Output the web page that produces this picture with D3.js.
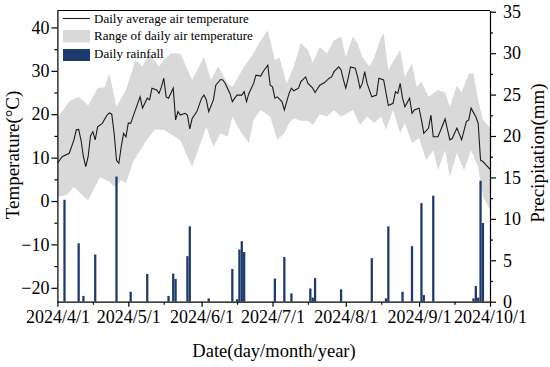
<!DOCTYPE html>
<html><head><meta charset="utf-8">
<script src="https://cdn.jsdelivr.net/npm/d3@7"></script>
<style>body{margin:0;background:#fff}svg{display:block}</style>
</head><body><svg id="c" width="550" height="367"></svg>
<script>
const startDate = "2024-04-01";
const endDate = "2024-10-01";
// daily average air temperature (day offset from 2024-04-01, °C)
const tempDays = [0,2,5,7,8,9,10,11,12,13,14,15,16,17,19,21,22,23,24,25,26,27,28,29,30,31,33,35,36,38,39,40,42,43,44,45,46,47,49,50,51,52,54,55,56,57,59,61,62,63,64,66,67,69,70,71,73,74,75,76,78,79,80,81,83,84,86,87,89,90,91,92,93,95,96,98,99,100,102,103,105,106,108,109,111,113,115,116,117,119,120,121,122,123,124,126,127,128,129,130,131,133,135,136,138,140,142,143,144,145,146,147,149,150,151,153,154,155,157,158,159,161,163,164,166,167,169,171,173,174,175,177,178,179,180,182,183];
const tempMean = [8.7,10.2,11,14.1,16.4,16.5,14,10.2,7.9,10.2,15,16,14.1,17.1,17.9,19.8,20.3,20,15.6,9.4,8.7,12.5,15.6,14.8,18,17.9,21,24,21.4,23.7,23.3,26,25.6,24.8,26.3,28.3,24,23.7,26,18.7,20.6,19.8,20.2,19.8,16.6,19,20.6,23.7,24.4,23.3,20.6,23.3,26.7,28,27.9,27.1,24.8,22.9,23.7,24.4,24.4,25.2,22.9,24.8,27.1,29,28.8,29.8,31.3,26.7,26.3,23.7,24,22.9,21,24.8,26,25.4,26,27.5,28.6,27.1,26,25,26.7,27.3,28.3,28.6,29.8,30.9,30.2,27.9,26,28.3,30.9,30.6,28.6,26,27.1,29.8,27.1,24,24.4,28.3,27.9,22,22.5,25.2,24.8,27.1,23.7,21.7,23.7,20.2,21,21.4,18.7,15.6,16.8,19.8,14.8,14.8,17.5,18.9,14.1,14.4,16.8,14.1,18.3,18.7,21.4,19.4,17.9,9.4,9.1,7.9,7.3];
// daily max / min air temperature envelope
const maxDays = [0,5,9,13,17,20,22,25,29,33,36,39,43,45,48,52,57,62,65,68,72,74,79,82,86,89,92,94,97,100,103,106,108,111,114,117,120,122,125,127,129,132,134,137,138,140,145,147,150,152,154,157,161,164,166,169,171,174,176,178,180,183];
const tempMax = [19,23,24,22,26,26.3,29.4,21.7,25.6,32.5,31,34,31,32.5,34,34,27.9,33.2,27.9,31,27.1,26.3,31,33.2,37,39.4,32.5,33,27.1,31,36.4,34.8,31.8,35.5,34,37,37.9,33.2,37.9,36.3,33.2,31,33,37.9,38.6,30.2,34.8,28.6,31.8,26.3,27.5,24,25.6,25,21.7,26.7,25,29.4,29.4,23.3,18.7,17];
const minDays = [0,4,7,12,13,18,22,24,27,29,32,37,41,45,52,55,57,60,63,66,69,72,74,77,81,83,86,90,93,96,98,100,103,106,108,111,114,117,120,122,125,128,131,134,137,139,142,145,147,150,153,156,159,161,164,166,169,172,175,178,180,183];
const tempMin = [1,1.4,3.3,0.5,0.2,5.5,4.5,3.3,4.8,4.1,9,13.4,16.4,16.4,14,10.2,7.9,12.5,17.1,12.5,15.6,14.8,19.4,16.4,13.3,18.7,21,19.5,14.1,15.6,18,19,18.5,18.5,17.5,20,19.5,21,19.5,20,21,17.5,19.5,18,19.5,16.4,21,15.6,18,13.3,14.5,9.4,11.7,7.1,11.7,5.6,11,7.1,11.7,7.9,1,-2];
// daily rainfall (mm)
const rainDays = [3,9,11,16,25,31,38,47,49,50,55,56,64,74,76,77,78,79,92,96,99,107,108,109,120,133,139,140,146,150,154,155,159,176,177,178,179,180];
const rainfall = [12.3,7.05,0.7,5.7,15.1,1.2,3.35,0.7,3.4,2.75,5.5,9.1,0.4,3.95,0.3,6.3,7.3,6.0,2.8,5.4,1.0,1.6,0.5,2.85,1.5,5.25,0.4,9.1,1.2,6.7,11.9,0.8,12.8,0.4,1.9,0.5,14.6,9.5];
const tempTicks = [-20,-10,0,10,20,30,40];
const rainTicks = [0,5,10,15,20,25,30,35];
const legendLabels = ["Daily average air temperature","Range of daily air temperature","Daily rainfall"];

const FONT = "'Liberation Serif','Times New Roman',serif";
const svg = d3.select("#c");
const L = 57.4, R = 490, T = 10.5, B = 301.7;
const parse = d3.timeParse("%Y-%m-%d");
const t0 = parse(startDate), t1 = parse(endDate);
const dayDate = d => d3.timeDay.offset(t0, d);

const x = d3.scaleTime().domain([t0, t1]).range([L, R]);
const yT = d3.scaleLinear().domain([-23.2, 43.9]).range([B, T]);
const yP = d3.scaleLinear().domain([0, 35.15]).range([B, T]);

svg.append("clipPath").attr("id","clip").append("rect")
  .attr("x", L).attr("y", T).attr("width", R - L).attr("height", B - T);
const plot = svg.append("g").attr("clip-path","url(#clip)");

// band
const upper = maxDays.map((d,i)=>({d, v: tempMax[i]}));
const lower = minDays.map((d,i)=>({d, v: tempMin[i]})).reverse();
const bandLine = d3.line().x(p => x(dayDate(p.d))).y(p => yT(p.v));
plot.append("path").attr("d", bandLine(upper.concat(lower)) + "Z")
  .attr("fill", "#d9d9d9").attr("stroke", "none");

// bars
const bw = x(dayDate(1)) - x(dayDate(0));
plot.selectAll("rect.bar").data(rainDays.map((d,i)=>({d, v: rainfall[i]})))
  .join("rect").attr("class","bar")
  .attr("x", p => x(dayDate(p.d)) - bw*0.48)
  .attr("width", bw*0.96)
  .attr("y", p => yP(p.v))
  .attr("height", p => yP(0) - yP(p.v))
  .attr("fill", "#1d3a6e");

// mean line
plot.append("path")
  .attr("d", d3.line().x(p => x(dayDate(p.d))).y(p => yT(p.v))(tempDays.map((d,i)=>({d, v: tempMean[i]}))))
  .attr("fill","none").attr("stroke","#1a1a1a").attr("stroke-width",1.1);

// axes
function styleAxis(g, fs){
  g.selectAll("text").attr("font-family", FONT).attr("font-size", fs).attr("fill","#000");
  g.selectAll("line,path").attr("stroke","#000").attr("stroke-width",1.2);
}
const gl = svg.append("g").attr("transform",`translate(${L},0)`)
  .call(d3.axisLeft(yT).tickValues(tempTicks).tickSize(6).tickPadding(2).tickSizeOuter(0));
styleAxis(gl, 18);
svg.append("g").attr("transform",`translate(${L},0)`)
  .call(d3.axisLeft(yT).tickValues(tempTicks.map(v=>v+5).filter(v=>v<44)).tickSize(3).tickFormat("").tickSizeOuter(0))
  .call(g=>{g.select(".domain").remove(); g.selectAll("line").attr("stroke","#000").attr("stroke-width",1.2);});

const gr = svg.append("g").attr("transform",`translate(${R},0)`)
  .call(d3.axisRight(yP).tickValues(rainTicks).tickSize(6).tickPadding(7).tickSizeOuter(0));
styleAxis(gr, 18);
svg.append("g").attr("transform",`translate(${R},0)`)
  .call(d3.axisRight(yP).tickValues(rainTicks.map(v=>v+2.5).filter(v=>v<35)).tickSize(3).tickFormat("").tickSizeOuter(0))
  .call(g=>{g.select(".domain").remove(); g.selectAll("line").attr("stroke","#000").attr("stroke-width",1.2);});

const gb = svg.append("g").attr("transform",`translate(0,${B})`)
  .call(d3.axisBottom(x).ticks(d3.timeMonth.every(1)).tickFormat(d3.timeFormat("%Y/%-m/%-d")).tickSize(5).tickPadding(4).tickSizeOuter(0));
styleAxis(gb, 18);
svg.append("g").attr("transform",`translate(0,${B})`)
  .call(d3.axisBottom(x).tickValues(d3.timeMonth.range(t0, t1).map(m => d3.timeDay.offset(m, 15))).tickSize(3).tickFormat("").tickSizeOuter(0))
  .call(g=>{g.select(".domain").remove(); g.selectAll("line").attr("stroke","#000").attr("stroke-width",1.2);});

// top frame
svg.append("line").attr("x1", L).attr("x2", R).attr("y1", T).attr("y2", T)
  .attr("stroke","#000").attr("stroke-width",1.2);

// titles
svg.append("text").attr("x", 274).attr("y", 357).attr("text-anchor","middle")
  .attr("font-family", FONT).attr("font-size", 18.5).text("Date(day/month/year)");
svg.append("text").attr("transform","translate(19,155) rotate(-90)").attr("text-anchor","middle")
  .attr("font-family", FONT).attr("font-size", 19).text("Temperature(°C)");
svg.append("text").attr("transform","translate(544,153) rotate(-90)").attr("text-anchor","middle")
  .attr("font-family", FONT).attr("font-size", 19).text("Precipitation(mm)");

// legend
const lg = svg.append("g");
lg.append("line").attr("x1",63).attr("x2",90).attr("y1",18.5).attr("y2",18.5).attr("stroke","#1a1a1a").attr("stroke-width",1.1);
lg.append("rect").attr("x",63).attr("y",30).attr("width",27).attr("height",12.5).attr("fill","#d9d9d9");
lg.append("rect").attr("x",63).attr("y",49).attr("width",27).attr("height",12).attr("fill","#1d3a6e");
[23, 39.5, 58].forEach((yy,i)=>{
  lg.append("text").attr("x",94).attr("y",yy).attr("font-family",FONT).attr("font-size",13).text(legendLabels[i]);
});
</script></body></html>
